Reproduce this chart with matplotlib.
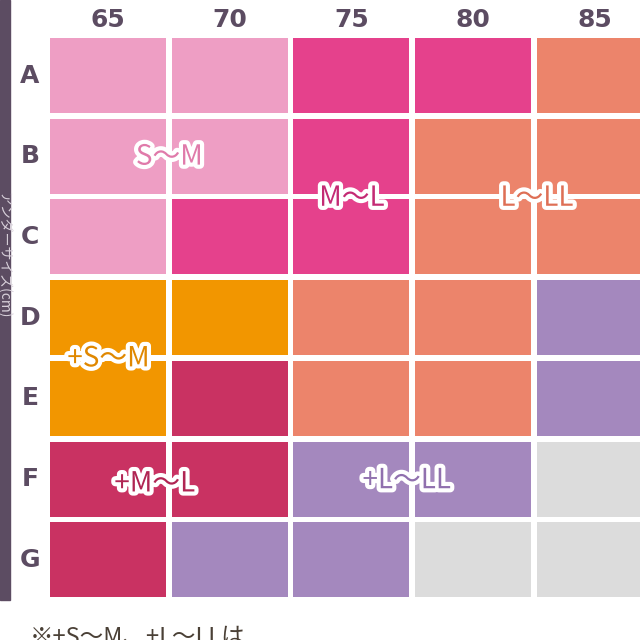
import matplotlib as mpl
mpl.use('Agg')
from matplotlib import pyplot as plt
from matplotlib.patches import Rectangle
import matplotlib.patheffects as pe

plt.rcParams['font.family'] = ['Noto Sans CJK JP', 'DejaVu Sans']

# sizes: under-bust columns and cup rows
cols = ['65', '70', '75', '80', '85']
rows = ['A', 'B', 'C', 'D', 'E', 'F', 'G']

# colour key per cell, row by row
grid = [
    ['sm', 'sm', 'ml', 'ml', 'lll'],
    ['sm', 'sm', 'ml', 'lll', 'lll'],
    ['sm', 'ml', 'ml', 'lll', 'lll'],
    ['psm', 'psm', 'lll', 'lll', 'plll'],
    ['psm', 'pml', 'lll', 'lll', 'plll'],
    ['pml', 'pml', 'plll', 'plll', 'none'],
    ['pml', 'plll', 'plll', 'none', 'none'],
]
palette = {
    'sm': '#EE9EC4', 'ml': '#E5418C', 'lll': '#EC846B',
    'psm': '#F29600', 'pml': '#C93262', 'plll': '#A488BE', 'none': '#DCDCDC',
}
# size labels: text, column pos, row pos, core colour
labels = ['S〜M', 'M〜L', 'L〜LL', '+S〜M', '+M〜L', '+L〜LL']
label_x = [0.98, 2.48, 4.0, 0.48, 0.86, 2.93]
label_y = [1.47, 1.98, 1.98, 3.97, 5.52, 5.48]
label_c = ['#E07AAA', '#C42A74', '#DE6F55', '#E08800', '#B02553', '#9070AE']

dark = '#5C4C62'
fig = plt.figure(figsize=(6.4, 6.4), dpi=100)
ax = fig.add_axes([0, 0, 1, 1])
ax.set_xlim(-50 / 121.7, 590 / 121.7)
ax.set_ylim(602 / 80.7, -38 / 80.7)
ax.axis('off')

gx, gy = 0.047, 0.07
for r, row in enumerate(grid):
    for c, key in enumerate(row):
        ax.bar(c, 1 - gy, width=1 - gx, bottom=r, align='edge',
               color=palette[key], edgecolor='none')

for c, name in enumerate(cols):
    ax.text(c + (1 - gx) / 2, -0.22, name, ha='center', va='center',
            fontsize=18, fontweight='bold', color=dark, family='DejaVu Sans')
for r, name in enumerate(rows):
    ax.text(-0.165, r + (1 - gy) / 2, name, ha='center', va='center',
            fontsize=18, fontweight='bold', color=dark, family='DejaVu Sans')

for t, x, y, c in zip(labels, label_x, label_y, label_c):
    ax.text(x, y, t, ha='center', va='center', fontsize=20, color=c,
            path_effects=[pe.withStroke(linewidth=6, foreground='white')])

# left side bar
fig.patches.append(Rectangle((0, 40 / 640), 10 / 640, 600 / 640,
                             transform=fig.transFigure, color=dark))
fig.text(3 / 640, 1 - 255 / 640, 'アンダーサイズ(cm)', rotation=-90,
         ha='center', va='center', fontsize=10, color='#D8D0DA')

fig.text(30 / 640, 1 - 626 / 640, '※+S〜M、+L〜LLは', ha='left', va='top',
         fontsize=17, color='#4A4036')

fig.savefig('out.png')
plt.close()
